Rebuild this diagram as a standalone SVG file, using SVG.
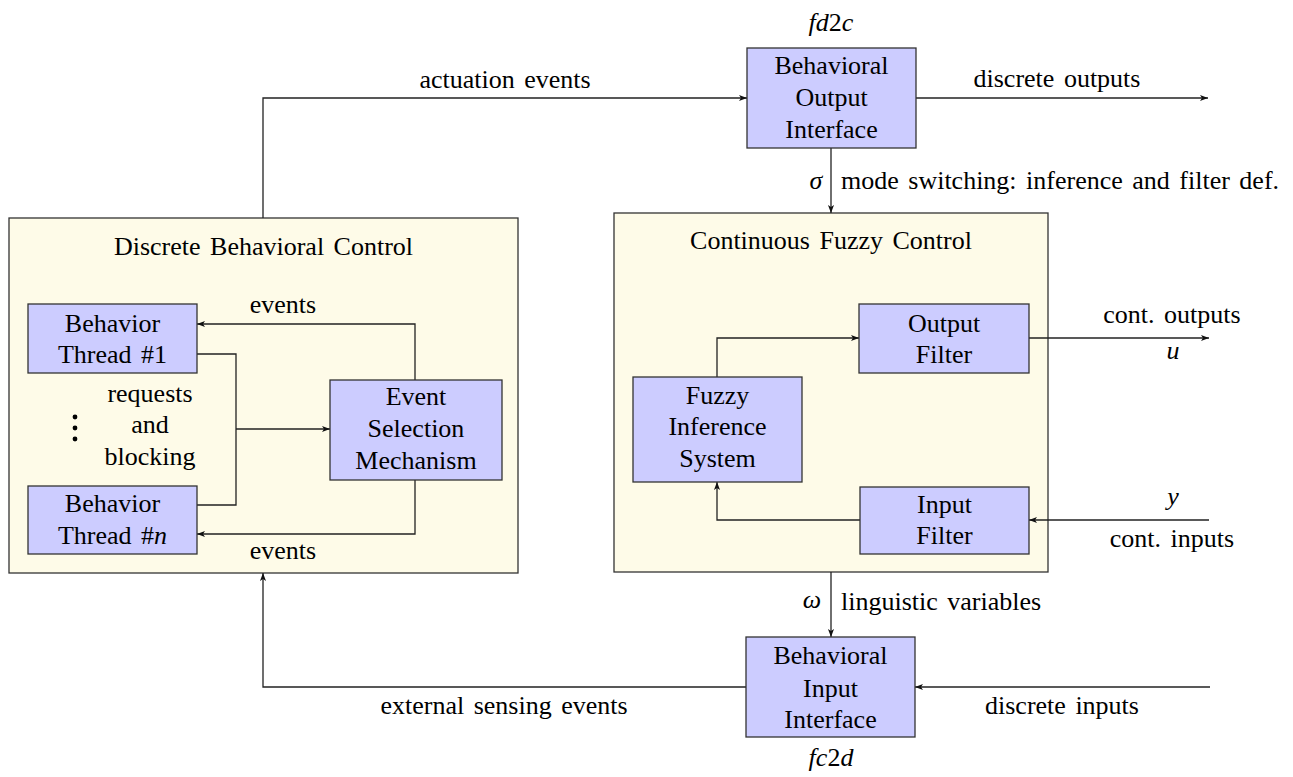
<svg xmlns="http://www.w3.org/2000/svg" width="1293" height="777" viewBox="0 0 1293 777">
<defs>
<marker id="ah" viewBox="0 0 10 10" refX="10" refY="5" markerWidth="8" markerHeight="8" orient="auto" markerUnits="userSpaceOnUse">
<path d="M0,1.2 L10,5 L0,8.8 L2.5,5 z" fill="#111"/>
</marker>
</defs>
<rect width="1293" height="777" fill="#fff"/>

<g id="discrete-control">
<rect x="9" y="218" width="509" height="355" fill="#FEFBE8" stroke="#333" stroke-width="1.3"/>
<text font-family="Liberation Serif" font-size="26" text-anchor="middle" word-spacing="3" x="263.5" y="255">Discrete Behavioral Control</text>
</g>
<g id="continuous-control">
<rect x="614" y="213" width="434" height="359" fill="#FEFBE8" stroke="#333" stroke-width="1.3"/>
<text font-family="Liberation Serif" font-size="26" text-anchor="middle" word-spacing="3" x="831" y="249">Continuous Fuzzy Control</text>
</g>

<g id="connectors" fill="none" stroke="#222" stroke-width="1.3">
<path marker-end="url(#ah)" d="M263,218 V98 H747"/>
<path marker-end="url(#ah)" d="M916,98 H1208"/>
<path marker-end="url(#ah)" d="M831,148 V213"/>
<path marker-end="url(#ah)" d="M415,380 V324 H197"/>
<path d="M197,354 H236 V505 H197"/>
<path marker-end="url(#ah)" d="M236,429 H330"/>
<path marker-end="url(#ah)" d="M415,480 V534 H197"/>
<path marker-end="url(#ah)" d="M717,377 V338 H859"/>
<path marker-end="url(#ah)" d="M1029,338 H1209"/>
<path marker-end="url(#ah)" d="M1209,520 H1029"/>
<path marker-end="url(#ah)" d="M860,520 H717 V482"/>
<path marker-end="url(#ah)" d="M831,572 V637"/>
<path marker-end="url(#ah)" d="M1210,687 H915"/>
<path marker-end="url(#ah)" d="M746,687 H263 V573"/>
</g>

<g id="connector-labels">
<text font-family="Liberation Serif" font-size="26" text-anchor="middle" word-spacing="3" x="505" y="88">actuation events</text>
<text font-family="Liberation Serif" font-size="26" text-anchor="middle" word-spacing="3" x="1057" y="87">discrete outputs</text>
<text font-family="Liberation Serif" font-size="26" text-anchor="middle" font-style="italic" x="816" y="189">σ</text>
<text font-family="Liberation Serif" font-size="26" word-spacing="3" x="841" y="189">mode switching: inference and filter def.</text>
<text font-family="Liberation Serif" font-size="26" text-anchor="middle" x="283" y="313">events</text>
<text font-family="Liberation Serif" font-size="26" text-anchor="middle" x="283" y="559">events</text>
<text font-family="Liberation Serif" font-size="26" text-anchor="middle" x="150" y="402">requests</text>
<text font-family="Liberation Serif" font-size="26" text-anchor="middle" x="150" y="433">and</text>
<text font-family="Liberation Serif" font-size="26" text-anchor="middle" x="150" y="465">blocking</text>
<circle cx="75" cy="417" r="2.4" fill="#000"/>
<circle cx="75" cy="428" r="2.4" fill="#000"/>
<circle cx="75" cy="439" r="2.4" fill="#000"/>
<text font-family="Liberation Serif" font-size="26" text-anchor="middle" word-spacing="3" x="1172" y="323">cont. outputs</text>
<text font-family="Liberation Serif" font-size="26" text-anchor="middle" font-style="italic" x="1173" y="359">u</text>
<text font-family="Liberation Serif" font-size="26" text-anchor="middle" font-style="italic" x="1173" y="505">y</text>
<text font-family="Liberation Serif" font-size="26" text-anchor="middle" word-spacing="3" x="1172" y="547">cont. inputs</text>
<text font-family="Liberation Serif" font-size="26" text-anchor="middle" font-style="italic" x="812" y="608">ω</text>
<text font-family="Liberation Serif" font-size="26" word-spacing="3" x="841" y="610">linguistic variables</text>
<text font-family="Liberation Serif" font-size="26" text-anchor="middle" word-spacing="3" x="504" y="714">external sensing events</text>
<text font-family="Liberation Serif" font-size="26" text-anchor="middle" word-spacing="3" x="1062" y="714">discrete inputs</text>
</g>

<g id="behavioral-output-interface">
<rect x="747" y="48" width="169" height="100" fill="#CCCCFF" stroke="#333" stroke-width="1.3"/>
<text font-family="Liberation Serif" font-size="26" text-anchor="middle" x="831.5" y="74">Behavioral</text>
<text font-family="Liberation Serif" font-size="26" text-anchor="middle" x="831.5" y="106">Output</text>
<text font-family="Liberation Serif" font-size="26" text-anchor="middle" x="831.5" y="138">Interface</text>
<text font-family="Liberation Serif" font-size="26" text-anchor="middle" x="831" y="31"><tspan font-style="italic">fd</tspan>2<tspan font-style="italic">c</tspan></text>
</g>

<g id="behavior-thread-1">
<rect x="28" y="304" width="169" height="69" fill="#CCCCFF" stroke="#333" stroke-width="1.3"/>
<text font-family="Liberation Serif" font-size="26" text-anchor="middle" x="112.5" y="332">Behavior</text>
<text font-family="Liberation Serif" font-size="26" text-anchor="middle" word-spacing="3" x="112.5" y="363">Thread #1</text>
</g>

<g id="behavior-thread-n">
<rect x="28" y="486" width="169" height="68" fill="#CCCCFF" stroke="#333" stroke-width="1.3"/>
<text font-family="Liberation Serif" font-size="26" text-anchor="middle" x="112.5" y="512">Behavior</text>
<text font-family="Liberation Serif" font-size="26" text-anchor="middle" word-spacing="3" x="112.5" y="544">Thread #<tspan font-style="italic">n</tspan></text>
</g>

<g id="event-selection">
<rect x="330" y="380" width="172" height="100" fill="#CCCCFF" stroke="#333" stroke-width="1.3"/>
<text font-family="Liberation Serif" font-size="26" text-anchor="middle" x="416" y="405">Event</text>
<text font-family="Liberation Serif" font-size="26" text-anchor="middle" x="416" y="437">Selection</text>
<text font-family="Liberation Serif" font-size="26" text-anchor="middle" x="416" y="469">Mechanism</text>
</g>

<g id="output-filter">
<rect x="859" y="304" width="170" height="69" fill="#CCCCFF" stroke="#333" stroke-width="1.3"/>
<text font-family="Liberation Serif" font-size="26" text-anchor="middle" x="944" y="332">Output</text>
<text font-family="Liberation Serif" font-size="26" text-anchor="middle" x="944" y="363">Filter</text>
</g>

<g id="fuzzy-inference">
<rect x="633" y="377" width="169" height="105" fill="#CCCCFF" stroke="#333" stroke-width="1.3"/>
<text font-family="Liberation Serif" font-size="26" text-anchor="middle" x="717.5" y="404">Fuzzy</text>
<text font-family="Liberation Serif" font-size="26" text-anchor="middle" x="717.5" y="435">Inference</text>
<text font-family="Liberation Serif" font-size="26" text-anchor="middle" x="717.5" y="467">System</text>
</g>

<g id="input-filter">
<rect x="860" y="487" width="169" height="67" fill="#CCCCFF" stroke="#333" stroke-width="1.3"/>
<text font-family="Liberation Serif" font-size="26" text-anchor="middle" x="944.5" y="513">Input</text>
<text font-family="Liberation Serif" font-size="26" text-anchor="middle" x="944.5" y="544">Filter</text>
</g>

<g id="behavioral-input-interface">
<rect x="746" y="637" width="169" height="100" fill="#CCCCFF" stroke="#333" stroke-width="1.3"/>
<text font-family="Liberation Serif" font-size="26" text-anchor="middle" x="830.5" y="664">Behavioral</text>
<text font-family="Liberation Serif" font-size="26" text-anchor="middle" x="830.5" y="697">Input</text>
<text font-family="Liberation Serif" font-size="26" text-anchor="middle" x="830.5" y="728">Interface</text>
<text font-family="Liberation Serif" font-size="26" text-anchor="middle" x="831" y="766"><tspan font-style="italic">fc</tspan>2<tspan font-style="italic">d</tspan></text>
</g>
</svg>
